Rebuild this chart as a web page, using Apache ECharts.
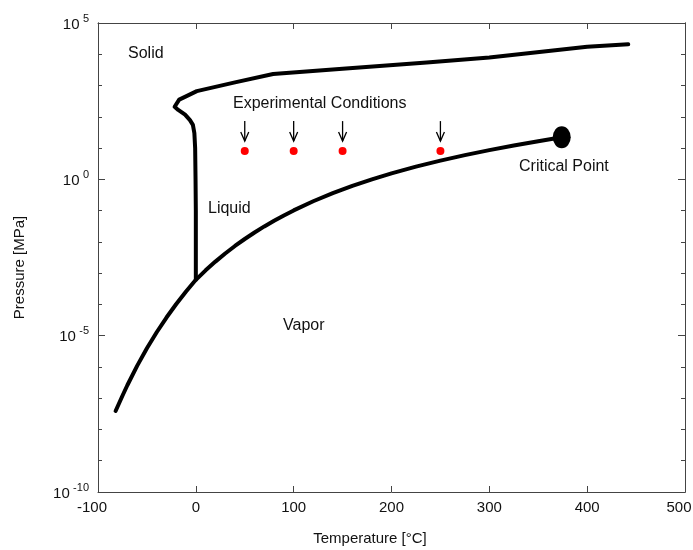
<!DOCTYPE html>
<html>
<head>
<meta charset="utf-8">
<script src="https://cdn.jsdelivr.net/npm/echarts@6/dist/echarts.min.js"></script>
<style>
  html, body { margin: 0; padding: 0; background: #fff; }
  #chart { width: 693px; height: 550px; }
</style>
</head>
<body>
<div id="chart"></div>
<script>
// sublimation + vaporization curve (T in °C, P in MPa)
const sublimT = [-82, -75, -70, -60, -50, -40, -30, -20, -10, 0.01];
const sublimP = [3.9e-8, 1.2e-7, 2.6e-7, 1.08e-6, 3.94e-6, 1.285e-5, 3.8e-5, 1.03e-4, 2.6e-4, 6.11e-4];
const boilT = [10, 20, 30, 40, 50, 60, 70, 80, 90, 100, 120, 140, 160, 180, 200, 225, 250, 275, 300, 325, 350, 374];
const boilP = [1.228e-3, 2.339e-3, 4.247e-3, 7.384e-3, 0.01235, 0.01995, 0.0312, 0.04741, 0.07018, 0.1014,
  0.1987, 0.3615, 0.6182, 1.0028, 1.555, 2.55, 3.976, 5.95, 8.588, 12.05, 16.53, 22.06];

// melting curve, from the triple point up to the high-pressure ices
const meltT = [0.01, 0, -0.3, -0.7, -1.5, -3, -6, -11, -18, -21.7, -17, -9, 1, 40, 79, 150, 236, 300, 400, 442];
const meltP = [6.11e-4, 0.1, 1, 10, 30, 55, 78, 117, 166, 209, 355, 468, 661, 1259, 2344, 3467, 5495, 7943, 17378, 20893];

const criticalT = [374];
const criticalP = [22.06];

const expT = [50, 100, 150, 250];
const expP = [8, 8, 8, 8];

const xTicks = [-100, 0, 100, 200, 300, 400, 500];

const zip = (a, b) => a.map((v, i) => [v, b[i]]);
const FONT = '"Liberation Sans", Arial, sans-serif';
const AXIS = '#444';

const chart = echarts.init(document.getElementById('chart'));

function yAxisBase(position, interval, tickLen, showLabel) {
  return {
    type: 'log',
    logBase: 10,
    min: 1e-10,
    max: 1e5,
    interval: interval,
    position: position,
    axisLine: { show: true, onZero: false, lineStyle: { color: AXIS, width: 1 } },
    axisTick: { show: true, inside: true, length: tickLen, lineStyle: { color: AXIS } },
    splitLine: { show: false },
    axisLabel: showLabel ? {
      margin: 9,
      formatter: function (v) {
        const e = Math.round(Math.log10(v));
        if (e % 5 !== 0) return '';
        return '{b|10} {e|' + e + '}';
      },
      rich: {
        b: { fontSize: 15, fontFamily: FONT, color: '#111', lineHeight: 20, verticalAlign: 'top', padding: [4, 0, 6, 0] },
        e: { fontSize: 11, fontFamily: FONT, color: '#111', lineHeight: 11, verticalAlign: 'top' }
      }
    } : { show: false }
  };
}

function xAxisBase(position, showLabel) {
  const lo = xTicks[0], hi = xTicks[xTicks.length - 1];
  return {
    type: 'value',
    min: lo,
    max: hi,
    interval: 100,
    position: position,
    axisLine: { show: true, onZero: false, lineStyle: { color: AXIS, width: 1 } },
    axisTick: { show: true, inside: true, length: 6, lineStyle: { color: AXIS } },
    splitLine: { show: false },
    axisLabel: showLabel ? {
      margin: 8, fontSize: 15, fontFamily: FONT, color: '#111',
      // end labels sit a little left of their ticks in the original
      formatter: v => (v === lo || v === hi) ? '{r|' + v + '}' : String(v),
      rich: { r: { fontSize: 15, fontFamily: FONT, color: '#111', padding: [0, 12, 0, 0] } }
    } : { show: false }
  };
}

const curveStyle = { color: '#000', width: 4, join: 'round', cap: 'round' };

chart.setOption({
  animation: false,
  backgroundColor: '#fff',
  grid: { left: 98, right: 8, top: 23, bottom: 58, containLabel: false, outerBoundsMode: 'none' },
  xAxis: [xAxisBase('bottom', true), xAxisBase('top', false)],
  yAxis: [
    yAxisBase('left', 1, 4, false),
    yAxisBase('left', 5, 7, true),
    yAxisBase('right', 1, 4, false),
    yAxisBase('right', 5, 7, false)
  ],
  series: [
    {
      name: 'vapor',
      type: 'line',
      showSymbol: false,
      data: zip(sublimT, sublimP).concat(zip(boilT, boilP)),
      lineStyle: curveStyle,
      z: 3
    },
    {
      name: 'melting',
      type: 'line',
      showSymbol: false,
      data: zip(meltT, meltP),
      lineStyle: curveStyle,
      z: 3
    },
    {
      name: 'critical',
      type: 'scatter',
      symbol: 'circle',
      symbolSize: [18, 22],
      itemStyle: { color: '#000', opacity: 1 },
      data: zip(criticalT, criticalP),
      z: 4
    },
    {
      name: 'experimental',
      type: 'scatter',
      symbolSize: 8,
      itemStyle: { color: '#ff0000', opacity: 1 },
      data: zip(expT, expP),
      z: 4
    },
    {
      name: 'arrows',
      type: 'custom',
      data: zip(expT, expP),
      renderItem: function (params, api) {
        const p = api.coord([api.value(0), api.value(1)]);
        const st = { stroke: '#000', lineWidth: 1.3, fill: null };
        return {
          type: 'group',
          children: [
            { type: 'line', shape: { x1: p[0], y1: p[1] - 30, x2: p[0], y2: p[1] - 10 }, style: st },
            { type: 'polyline', shape: { points: [[p[0] - 4, p[1] - 19], [p[0], p[1] - 10], [p[0] + 4, p[1] - 19]] }, style: st }
          ]
        };
      },
      z: 4
    }
  ],
  graphic: [
    { type: 'text', x: 128, y: 54, style: { text: 'Solid', fontSize: 16, fontFamily: FONT, fill: '#111', verticalAlign: 'middle' } },
    { type: 'text', x: 233, y: 104, style: { text: 'Experimental Conditions', fontSize: 16, fontFamily: FONT, fill: '#111', verticalAlign: 'middle' } },
    { type: 'text', x: 208, y: 209, style: { text: 'Liquid', fontSize: 16, fontFamily: FONT, fill: '#111', verticalAlign: 'middle' } },
    { type: 'text', x: 283, y: 325.5, style: { text: 'Vapor', fontSize: 16, fontFamily: FONT, fill: '#111', verticalAlign: 'middle' } },
    { type: 'text', x: 519, y: 166.5, style: { text: 'Critical Point', fontSize: 16, fontFamily: FONT, fill: '#111', verticalAlign: 'middle' } },
    { type: 'text', x: 370, y: 539, style: { text: 'Temperature [°C]', fontSize: 15, fontFamily: FONT, fill: '#111', align: 'center', verticalAlign: 'middle' } },
    { type: 'text', x: 19.5, y: 267.5, rotation: Math.PI / 2, style: { text: 'Pressure [MPa]', fontSize: 15, fontFamily: FONT, fill: '#111', align: 'center', verticalAlign: 'middle' } }
  ]
});
</script>
</body>
</html>
